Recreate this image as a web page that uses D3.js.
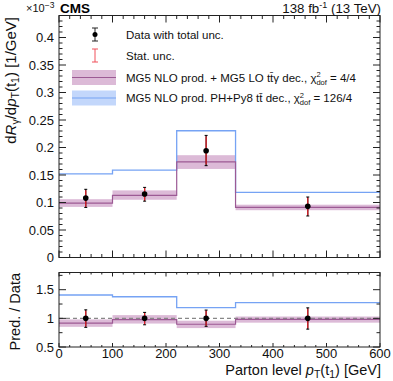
<!DOCTYPE html>
<html>
<head>
<meta charset="utf-8">
<script src="https://cdn.jsdelivr.net/npm/d3@7"></script>
<style>
  body { margin: 0; background: #fff; }
  svg { font-family: "Liberation Sans", Arial, sans-serif; }
</style>
</head>
<body>
<svg id="chart" width="393" height="381"></svg>
<script>
// bins of leading top pT [GeV]
const binEdges = [0, 100, 220, 330, 600];
const dataX = [50, 160, 275, 465];
// measured values (x 10^-3 / GeV)
const dataY = [0.108, 0.1155, 0.194, 0.093];
const totalUp = [0.016, 0.012, 0.028, 0.017];
const totalDown = [0.017, 0.013, 0.027, 0.0175];
const statUp = [0.0145, 0.011, 0.026, 0.0155];
const statDown = [0.0155, 0.012, 0.025, 0.016];
// MG5 NLO prod. + MG5 LO decay
const mg5Lo = [0.099, 0.113, 0.174, 0.0913];
const mg5LoLow = [0.092, 0.105, 0.161, 0.086];
const mg5LoHigh = [0.106, 0.122, 0.186, 0.096];
// MG5 NLO prod. PH+Py8 decay
const phPy8 = [0.152, 0.159, 0.2305, 0.1185];

const yTicks = [0, 0.05, 0.1, 0.15, 0.2, 0.25, 0.3, 0.35, 0.4];
const ratioTicks = [0.5, 1, 1.5];
const xTicks = [0, 100, 200, 300, 400, 500, 600];

const purple = '#9c5a94';
const purpleBand = '#dcbad7';
const blue = '#76a3f4';
const blueBand = '#c3d7fb';

const svg = d3.select('#chart');

const x = d3.scaleLinear().domain([0, 600]).range([59, 380]);
const y = d3.scaleLinear().domain([0, 0.44]).range([257.5, 15.5]);
const yr = d3.scaleLinear().domain([0.5, 1.8]).range([347, 272.5]);

const bins = dataY.map((d, i) => ({ x0: binEdges[i], x1: binEdges[i + 1], i }));

// step line helper
function stepPath(vals, scale) {
    const pts = [];
    vals.forEach((v, i) => {
        pts.push([x(binEdges[i]), scale(v)]);
        pts.push([x(binEdges[i + 1]), scale(v)]);
    });
    return d3.line()(pts);
}

function drawPanel(scale, series, opts) {
    const g = svg.append('g');
    // purple band
    g.selectAll('rect.band')
        .data(bins)
        .join('rect')
        .attr('class', 'band')
        .attr('x', d => x(d.x0))
        .attr('width', d => x(d.x1) - x(d.x0))
        .attr('y', d => scale(series.bandHigh[d.i]))
        .attr('height', d => scale(series.bandLow[d.i]) - scale(series.bandHigh[d.i]))
        .attr('fill', purpleBand);

    if (opts.dashed) {
        g.append('line')
            .attr('x1', x(0)).attr('x2', x(600))
            .attr('y1', scale(1)).attr('y2', scale(1))
            .attr('stroke', '#888').attr('stroke-width', 1.2)
            .attr('stroke-dasharray', '4,3');
    }

    g.append('path').attr('d', stepPath(series.blue, scale))
        .attr('fill', 'none').attr('stroke', blue).attr('stroke-width', 1.3);
    g.append('path').attr('d', stepPath(series.purple, scale))
        .attr('fill', 'none').attr('stroke', purple).attr('stroke-width', 1.2);

    // data points with total (black) and stat (red) errors
    const pts = g.selectAll('g.pt')
        .data(bins)
        .join('g')
        .attr('class', 'pt');
    pts.append('line')
        .attr('x1', d => x(dataX[d.i])).attr('x2', d => x(dataX[d.i]))
        .attr('y1', d => scale(series.totHi[d.i])).attr('y2', d => scale(series.totLo[d.i]))
        .attr('stroke', '#000').attr('stroke-width', 1.2);
    pts.selectAll('line.cap')
        .data(d => [series.totHi[d.i], series.totLo[d.i]].map(v => ({ v, i: d.i })))
        .join('line')
        .attr('class', 'cap')
        .attr('x1', d => x(dataX[d.i]) - 1.5).attr('x2', d => x(dataX[d.i]) + 1.5)
        .attr('y1', d => scale(d.v)).attr('y2', d => scale(d.v))
        .attr('stroke', '#000').attr('stroke-width', 1);
    pts.append('line')
        .attr('x1', d => x(dataX[d.i])).attr('x2', d => x(dataX[d.i]))
        .attr('y1', d => scale(series.statHi[d.i])).attr('y2', d => scale(series.statLo[d.i]))
        .attr('stroke', '#e8202a').attr('stroke-width', 1.2);
    pts.append('circle')
        .attr('cx', d => x(dataX[d.i])).attr('cy', d => scale(series.data[d.i]))
        .attr('r', 2.8).attr('fill', '#000');
}

// main panel
drawPanel(y, {
    bandHigh: mg5LoHigh, bandLow: mg5LoLow,
    purple: mg5Lo, blue: phPy8, data: dataY,
    totHi: dataY.map((d, i) => d + totalUp[i]), totLo: dataY.map((d, i) => d - totalDown[i]),
    statHi: dataY.map((d, i) => d + statUp[i]), statLo: dataY.map((d, i) => d - statDown[i])
}, { dashed: false });

// ratio panel: prediction / data
drawPanel(yr, {
    bandHigh: mg5LoHigh.map((v, i) => v / dataY[i]), bandLow: mg5LoLow.map((v, i) => v / dataY[i]),
    purple: mg5Lo.map((v, i) => v / dataY[i]), blue: phPy8.map((v, i) => v / dataY[i]),
    data: dataY.map(() => 1),
    totHi: dataY.map((d, i) => 1 + totalUp[i] / d), totLo: dataY.map((d, i) => 1 - totalDown[i] / d),
    statHi: dataY.map((d, i) => 1 + statUp[i] / d), statLo: dataY.map((d, i) => 1 - statDown[i] / d)
}, { dashed: true });

// frames and ticks
function frame(scale, major, minorStep, xMaj, xMin, yMaj, yMin, labels) {
    const [b, t] = scale.range();
    const g = svg.append('g').attr('stroke', '#222').attr('stroke-width', 1).attr('fill', 'none');
    g.append('rect').attr('x', x(0)).attr('y', t).attr('width', x(600) - x(0)).attr('height', b - t);
    const [d0, d1] = scale.domain();
    const minors = d3.range(Math.ceil(d0 / minorStep - 1e-6) * minorStep, d1 + 1e-9, minorStep);
    minors.forEach(v => {
        const isMaj = major.some(m => Math.abs(m - v) < 1e-6);
        const len = isMaj ? yMaj : yMin;
        g.append('line').attr('x1', x(0)).attr('x2', x(0) + len).attr('y1', scale(v)).attr('y2', scale(v));
        g.append('line').attr('x1', x(600)).attr('x2', x(600) - len).attr('y1', scale(v)).attr('y2', scale(v));
    });
    d3.range(0, 601, 20).forEach(v => {
        const len = v % 100 === 0 ? xMaj : xMin;
        g.append('line').attr('x1', x(v)).attr('x2', x(v)).attr('y1', b).attr('y2', b - len);
        g.append('line').attr('x1', x(v)).attr('x2', x(v)).attr('y1', t).attr('y2', t + len);
    });
    svg.append('g').selectAll('text')
        .data(major)
        .join('text')
        .attr('x', 54).attr('y', d => scale(d) + 4.5)
        .attr('text-anchor', 'end').attr('font-size', 13).attr('fill', '#111')
        .text(labels);
}

frame(y, yTicks, 0.01, 7, 3.5, 7, 3.5, d => d === 0 ? '0' : String(+d.toFixed(2)));
frame(yr, ratioTicks, 0.25, 4, 2, 7, 3.5, d => String(d));

// x tick labels
svg.append('g').selectAll('text')
    .data(xTicks)
    .join('text')
    .attr('x', d => x(d)).attr('y', 357.5)
    .attr('text-anchor', 'middle').attr('font-size', 13).attr('fill', '#111')
    .text(d => d);

// axis titles
const xt = svg.append('text').attr('x', 381).attr('y', 375).attr('text-anchor', 'end')
    .attr('font-size', 14.5).attr('fill', '#111');
xt.append('tspan').text('Parton level ');
xt.append('tspan').attr('font-style', 'italic').text('p');
xt.append('tspan').attr('font-size', 10.5).attr('dy', 3).text('T');
xt.append('tspan').attr('dy', -3).text('(t');
xt.append('tspan').attr('font-size', 10.5).attr('dy', 3).text('1');
xt.append('tspan').attr('dy', -3).text(') [GeV]');

const yt = svg.append('text').attr('transform', 'translate(16,17) rotate(-90)')
    .attr('text-anchor', 'end').attr('font-size', 15).attr('fill', '#111');
yt.append('tspan').text('d');
yt.append('tspan').attr('font-style', 'italic').text('R');
yt.append('tspan').attr('font-size', 10.5).attr('dy', 3).text('γ');
yt.append('tspan').attr('dy', -3).text('/d');
yt.append('tspan').attr('font-style', 'italic').text('p');
yt.append('tspan').attr('font-size', 10.5).attr('dy', 3).text('T');
yt.append('tspan').attr('dy', -3).text('(t');
yt.append('tspan').attr('font-size', 10.5).attr('dy', 3).text('1');
yt.append('tspan').attr('dy', -3).text(') [1/GeV]');

svg.append('text').attr('transform', 'translate(20,273) rotate(-90)')
    .attr('text-anchor', 'end').attr('font-size', 14.5).attr('fill', '#111')
    .text('Pred. / Data');

// header
const ex = svg.append('text').attr('x', 26).attr('y', 12).attr('font-size', 11).attr('fill', '#111');
ex.append('tspan').text('×10');
ex.append('tspan').attr('font-size', 8.5).attr('dy', -4.5).text('−3');
svg.append('text').attr('x', 60).attr('y', 12.5).attr('font-size', 13.5)
    .attr('font-weight', 'bold').attr('fill', '#000').text('CMS');
const lum = svg.append('text').attr('x', 381).attr('y', 12.5).attr('text-anchor', 'end')
    .attr('font-size', 13.3).attr('fill', '#111');
lum.append('tspan').text('138 fb');
lum.append('tspan').attr('font-size', 9).attr('dy', -4.5).text('-1');
lum.append('tspan').attr('dy', 4.5).text(' (13 TeV)');

// legend
const lg = svg.append('g');
lg.append('line').attr('x1', 95).attr('x2', 95).attr('y1', 28).attr('y2', 41).attr('stroke', '#222');
[28, 41].forEach(v => lg.append('line').attr('x1', 92).attr('x2', 98).attr('y1', v).attr('y2', v).attr('stroke', '#222'));
lg.append('circle').attr('cx', 95).attr('cy', 34.5).attr('r', 2.5).attr('fill', '#000');
lg.append('line').attr('x1', 95).attr('x2', 95).attr('y1', 49).attr('y2', 62).attr('stroke', '#f0505a');
[49, 62].forEach(v => lg.append('line').attr('x1', 92).attr('x2', 98).attr('y1', v).attr('y2', v).attr('stroke', '#f0505a'));
lg.append('rect').attr('x', 72).attr('y', 70).attr('width', 44).attr('height', 15).attr('fill', purpleBand);
lg.append('line').attr('x1', 72).attr('x2', 116).attr('y1', 77.5).attr('y2', 77.5).attr('stroke', purple).attr('stroke-width', 1.2);
lg.append('rect').attr('x', 72).attr('y', 90.5).attr('width', 44).attr('height', 15).attr('fill', blueBand);
lg.append('line').attr('x1', 72).attr('x2', 116).attr('y1', 98).attr('y2', 98).attr('stroke', blue).attr('stroke-width', 1.2);

function legText(yy, parts) {
    const t = lg.append('text').attr('x', 126).attr('y', yy).attr('font-size', 11.5).attr('fill', '#111');
    parts(t);
}
legText(38.5, t => t.text('Data with total unc.'));
legText(60, t => t.text('Stat. unc.'));
function chi(t, val) {
    t.append('tspan').text('χ');
    t.append('tspan').attr('font-size', 7.5).attr('dy', -4.5).text('2');
    t.append('tspan').attr('font-size', 7.5).attr('dx', -4.2).attr('dy', 7.5).text('dof');
    t.append('tspan').attr('dy', -3).text(' = ' + val);
}
legText(81.5, t => {
    t.append('tspan').text('MG5 NLO prod. + MG5 LO tt\u0304γ dec., ');
    chi(t, '4/4');
});
legText(102, t => {
    t.append('tspan').text('MG5 NLO prod. PH+Py8 tt\u0304 dec., ');
    chi(t, '126/4');
});
</script>
</body>
</html>
